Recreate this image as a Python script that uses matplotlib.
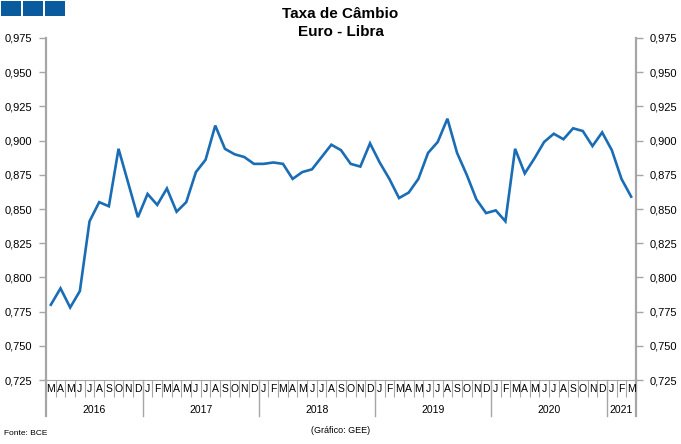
import numpy as np
import matplotlib
matplotlib.use('Agg')
from matplotlib import pyplot as plt
from matplotlib.patches import Rectangle
import matplotlib.transforms as mtransforms

plt.rcParams['font.family'] = ['Liberation Sans', 'DejaVu Sans']

# monthly EUR/GBP, Mar 2016 - Mar 2021
meses = ['M', 'A', 'M', 'J', 'J', 'A', 'S', 'O', 'N', 'D'] + \
        ['J', 'F', 'M', 'A', 'M', 'J', 'J', 'A', 'S', 'O', 'N', 'D'] * 4 + \
        ['J', 'F', 'M']
anos = ['2016', '2017', '2018', '2019', '2020', '2021']
meses_por_ano = [10, 12, 12, 12, 12, 3]

taxa = [0.780, 0.792, 0.778, 0.790, 0.841, 0.855, 0.852, 0.894, 0.869, 0.844,
        0.861, 0.853, 0.865, 0.848, 0.855, 0.877, 0.886, 0.911, 0.894, 0.890, 0.888, 0.883,
        0.883, 0.884, 0.883, 0.872, 0.877, 0.879, 0.888, 0.897, 0.893, 0.883, 0.881, 0.898,
        0.884, 0.872, 0.858, 0.862, 0.872, 0.891, 0.899, 0.916, 0.891, 0.875, 0.857, 0.847,
        0.849, 0.841, 0.894, 0.876, 0.887, 0.899, 0.905, 0.901, 0.909, 0.907, 0.896, 0.906,
        0.893, 0.872, 0.859]

yticks = np.arange(0.725, 0.976, 0.025)

W, H = 681, 444
fig = plt.figure(figsize=(W / 100, H / 100), dpi=100)
ax = fig.add_axes([46 / W, 1 - 380 / H, (636 - 46) / W, (380 - 38) / H])

x = np.arange(len(taxa))
ax.plot(x, taxa, color='#1a6db5', lw=1.9, solid_joinstyle='miter')

ax.set_xlim(-0.5, len(taxa) - 0.5)
ax.set_ylim(0.725, 0.975)
ax.set_yticks(yticks)
ax.set_yticklabels([f'{v:.3f}'.replace('.', ',') for v in yticks])
ax.tick_params(axis='y', which='both', left=True, right=True, labelleft=True, labelright=True,
               length=5, width=1, color='#a6a6a6', labelsize=8, pad=5, direction='out')

gris = '#a6a6a6'
ax.spines['top'].set_visible(False)
ax.spines['left'].set_color(gris)
ax.spines['right'].set_color(gris)
ax.spines['left'].set_linewidth(1.6)
ax.spines['right'].set_linewidth(1.6)
ax.spines['bottom'].set_color(gris)
ax.spines['bottom'].set_linewidth(0.8)

# month separators as ticks, month letters as text
ax.set_xticks(np.arange(-0.5, len(taxa), 1.0))
ax.set_xticklabels([])
ax.tick_params(axis='x', length=12.5, width=0.8, color=gris, direction='out')

trans = mtransforms.blended_transform_factory(ax.transData, ax.transAxes)
off_m = mtransforms.ScaledTranslation(0, -9 / 100, fig.dpi_scale_trans)
off_a = mtransforms.ScaledTranslation(0, -30 / 100, fig.dpi_scale_trans)
for i, m in enumerate(meses):
    ax.text(i, 0, m, transform=trans + off_m, ha='center', va='center', fontsize=7.5)

# year separators and labels
inicio = -0.5
for ano, n in zip(anos, meses_por_ano):
    ax.text(inicio + n / 2, 0, ano, transform=trans + off_a, ha='center', va='center', fontsize=7.5)
    inicio += n
fronteiras = np.cumsum([0] + meses_por_ano) - 0.5
for f in fronteiras:
    ax.plot([f, f], [0, -36 / 342], transform=trans, color=gris,
            lw=1.6 if f in (fronteiras[0], fronteiras[-1]) else 1.0, clip_on=False)

fig.text(0.5, 1 - 14 / H, 'Taxa de Câmbio', ha='center', va='center', fontsize=11, fontweight='bold')
fig.text(0.5, 1 - 32 / H, 'Euro - Libra', ha='center', va='center', fontsize=11, fontweight='bold')
fig.text(4 / W, 1 - 433 / H, 'Fonte: BCE', ha='left', va='center', fontsize=6)
fig.text(0.5, 1 - 430 / H, '(Gráfico: GEE)', ha='center', va='center', fontsize=6.5)

for x0 in [1, 23, 45]:
    fig.patches.append(Rectangle((x0 / W, 1 - 16 / H), 20 / W, 15 / H, linewidth=0,
                                 transform=fig.transFigure, facecolor='#0a5a9e'))

fig.savefig('out.png', dpi=100)
